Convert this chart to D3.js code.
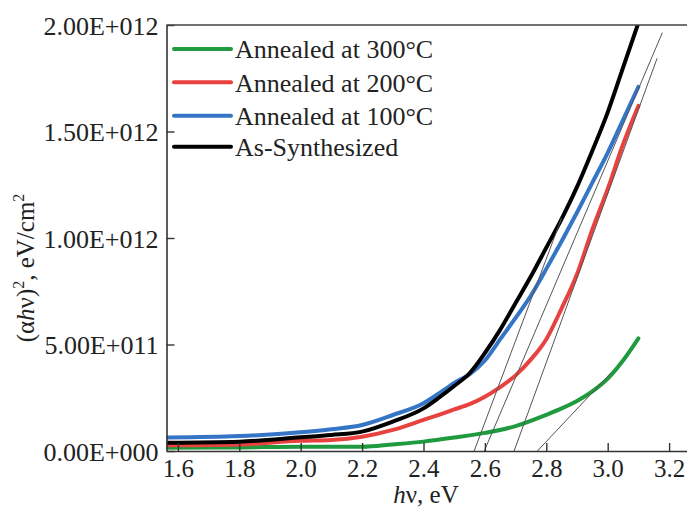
<!DOCTYPE html>
<html><head><meta charset="utf-8">
<script src="https://cdn.jsdelivr.net/npm/d3@7"></script>
<style>body{margin:0;background:#fff}svg{display:block}text{font-family:"Liberation Serif","Times New Roman",serif;fill:#222}</style>
</head><body><svg id="c" width="687" height="509"></svg>
<script>
const seriesNames = ["Annealed at 300°C","Annealed at 200°C","Annealed at 100°C","As-Synthesized"];
const seriesColors = ["#1f9a3e","#e8423f","#3575c6","#000000"];
const hv300 = [1.566,1.8,2.0,2.2,2.3,2.4,2.5,2.6,2.7,2.8,2.85,2.9,2.95,3.0,3.05,3.1];
const val300 = [0.15,0.17,0.2,0.2,0.31,0.44,0.63,0.85,1.17,1.7,2.0,2.35,2.8,3.4,4.25,5.29];
const hv200 = [1.566,1.8,2.0,2.1,2.2,2.3,2.4,2.45,2.5,2.55,2.6,2.65,2.7,2.75,2.8,2.85,2.9,2.95,3.0,3.05,3.1];
const val200 = [0.27,0.31,0.48,0.52,0.67,0.99,1.46,1.7,1.95,2.2,2.55,3.0,3.55,4.3,5.25,6.7,8.3,10.4,12.3,14.4,16.2];
const hv100 = [1.566,1.8,2.0,2.1,2.2,2.3,2.4,2.45,2.5,2.55,2.6,2.65,2.7,2.75,2.8,2.85,2.9,2.95,3.0,3.05,3.1];
const val100 = [0.63,0.7,0.88,1.02,1.22,1.69,2.24,2.7,3.2,3.6,4.25,5.25,6.25,7.3,8.55,9.85,11.2,12.6,14.0,15.55,17.1];
const hvAs = [1.566,1.8,2.0,2.1,2.2,2.3,2.4,2.45,2.5,2.55,2.6,2.65,2.7,2.75,2.8,2.85,2.9,2.95,3.0,3.05,3.1];
const valAs = [0.39,0.44,0.64,0.75,0.91,1.38,2.0,2.5,3.05,3.65,4.6,5.7,6.95,8.2,9.55,10.9,12.4,14.1,15.9,18.0,20.1];
// tangent lines: [hv start, hv end] and [val start, val end] (values in 1e11)
const tangentHv = [[2.565,2.85],[2.598,3.178],[2.695,3.161],[2.771,3.010]];
const tangentVal = [[0,10.94],[0,19.64],[0,18.44],[0,3.66]];
const xTicks = [1.6,1.8,2.0,2.2,2.4,2.6,2.8,3.0,3.2];
const xTickLabels = ["1.6","1.8","2.0","2.2","2.4","2.6","2.8","3.0","3.2"];
const yTicks = [0,5,10,15,20];
const yTickLabels = ["0.00E+000","5.00E+011","1.00E+012","1.50E+012","2.00E+012"];

const svg = d3.select("#c");
const L=166.5, R=687, T=25, B=451;
const x = d3.scaleLinear().domain([1.5629,3.2583]).range([L,R]);
const y = d3.scaleLinear().domain([0,20]).range([B,T]);

svg.append("defs").append("clipPath").attr("id","clip").append("rect")
  .attr("x",L).attr("y",T).attr("width",R-L).attr("height",B-T);

const series = [[hv300,val300],[hv200,val200],[hv100,val100],[hvAs,valAs]];
const line = d3.line().x(d=>x(d[0])).y(d=>y(d[1])).curve(d3.curveMonotoneX);
const g = svg.append("g").attr("clip-path","url(#clip)");
series.forEach((s,i)=>{
  const pts = s[0].map((h,j)=>[h,s[1][j]]);
  g.append("path").attr("d",line(pts)).attr("fill","none")
   .attr("stroke",seriesColors[i]).attr("stroke-width",4).attr("stroke-linecap","round");
});
tangentHv.forEach((t,i)=>{
  g.append("line").attr("x1",x(t[0])).attr("y1",y(tangentVal[i][0]))
   .attr("x2",x(t[1])).attr("y2",y(tangentVal[i][1]))
   .attr("stroke","#555").attr("stroke-width",1);
});

// axes
const xAxis = d3.axisBottom(x).tickValues(xTicks).tickSize(-8).tickFormat((d,i)=>xTickLabels[i]).tickSizeOuter(0);
const xg = svg.append("g").attr("transform",`translate(0,${B})`).call(xAxis);
xg.select(".domain").attr("stroke","#333").attr("stroke-width",1.6);
xg.selectAll(".tick line").attr("stroke","#333").attr("stroke-width",1.4);
xg.selectAll(".tick text").attr("font-size",25).attr("dy",0).attr("y",26).attr("fill","#222")
  .attr("font-family","Liberation Serif");

const yAxis = d3.axisLeft(y).tickValues(yTicks).tickSize(-8).tickFormat((d,i)=>yTickLabels[i]).tickSizeOuter(0);
const yg = svg.append("g").attr("transform",`translate(${L},0)`).call(yAxis);
yg.select(".domain").attr("stroke","#333").attr("stroke-width",1.6);
yg.selectAll(".tick line").attr("stroke","#333").attr("stroke-width",1.4);
yg.selectAll(".tick text").attr("font-size",26).attr("x",-8).attr("dy","0.36em").attr("fill","#222")
  .attr("font-family","Liberation Serif");

// top border
svg.append("line").attr("x1",L).attr("x2",R).attr("y1",T).attr("y2",T).attr("stroke","#444").attr("stroke-width",1.6);

// legend
const legY = [49,82.3,115.7,146.7];
seriesNames.forEach((n,i)=>{
  svg.append("line").attr("x1",174).attr("x2",231).attr("y1",legY[i]).attr("y2",legY[i])
    .attr("stroke",seriesColors[i]).attr("stroke-width",4).attr("stroke-linecap","round");
  svg.append("text").attr("x",235).attr("y",legY[i]+9.3).attr("font-size",26).text(n);
});

// axis titles
const xt = svg.append("text").attr("x",426).attr("y",503).attr("text-anchor","middle").attr("font-size",25);
xt.append("tspan").attr("font-style","italic").text("h");
xt.append("tspan").text("ν, eV");

const yt = svg.append("text").attr("transform","translate(34,268) rotate(-90)").attr("text-anchor","middle").attr("font-size",25);
yt.append("tspan").text("(α");
yt.append("tspan").attr("font-style","italic").text("h");
yt.append("tspan").text("ν)");
yt.append("tspan").attr("font-size",16).attr("dy",-10).text("2");
yt.append("tspan").attr("dy",10).text(", eV/cm");
yt.append("tspan").attr("font-size",16).attr("dy",-10).text("2");
</script></body></html>
